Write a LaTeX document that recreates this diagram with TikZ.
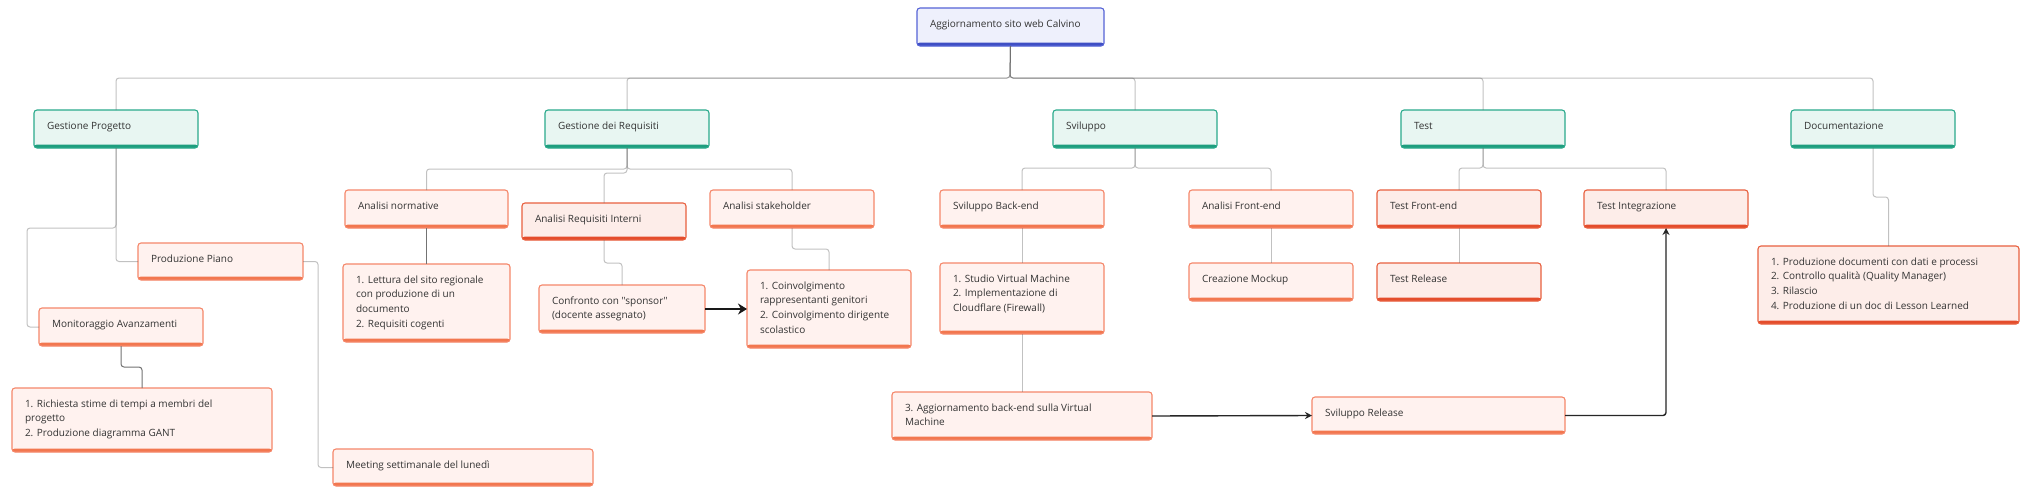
\documentclass[tikz,border=0pt]{standalone}
\usepackage{fontspec}
\setmainfont{Open Sans}[Ligatures=TeXOff]
\usetikzlibrary{arrows.meta}
\definecolor{txtc}{HTML}{333333}
\definecolor{blueb}{HTML}{5563D6}
\definecolor{bluef}{HTML}{EEF0FC}
\definecolor{bluebar}{HTML}{3F4FC4}
\definecolor{tealb}{HTML}{2BAA8C}
\definecolor{tealf}{HTML}{E8F6F2}
\definecolor{tealbar}{HTML}{1E9E7E}
\definecolor{orab}{HTML}{F5876A}
\definecolor{oraf}{HTML}{FFF2EF}
\definecolor{orabar}{HTML}{F2774F}
\definecolor{redb}{HTML}{E8603F}
\definecolor{redf}{HTML}{FDEDE9}
\definecolor{redbar}{HTML}{E44D2C}
\tikzset{
  bx/.style={anchor=north west, rounded corners=3pt, line width=1.1pt,
    inner xsep=13pt, inner ysep=0pt, outer sep=0pt, text=txtc,
    font=\fontsize{10}{14.8}\selectfont},
  bluebox/.style={bx, draw=blueb, fill=bluef, path picture={\fill[bluebar]
    ([yshift=3.5pt]path picture bounding box.south west) rectangle (path picture bounding box.south east);}},
  tealbox/.style={bx, draw=tealb, fill=tealf, path picture={\fill[tealbar]
    ([yshift=3.5pt]path picture bounding box.south west) rectangle (path picture bounding box.south east);}},
  orabox/.style={bx, draw=orab, fill=oraf, path picture={\fill[orabar]
    ([yshift=3.5pt]path picture bounding box.south west) rectangle (path picture bounding box.south east);}},
  redbox/.style={bx, draw=redb, fill=redf, path picture={\fill[redbar]
    ([yshift=3.5pt]path picture bounding box.south west) rectangle (path picture bounding box.south east);}},
  conn/.style={draw=black!60, draw opacity=0.4, line width=1pt, rounded corners=3pt},
  conndark/.style={draw=black!55, line width=1pt, rounded corners=3pt},
  thickarrow/.style={draw=black!90, line width=2.8pt, -{Stealth[length=9pt,width=11pt]}},
  thinarrow/.style={draw=black!85, line width=1.4pt, rounded corners=3pt, -{Stealth[length=7pt,width=7pt]}}
}
\newcommand{\mybox}[7]{\node[#6] (#1) at (#2,#3)
  {\parbox[c][#5pt][t]{\dimexpr #4pt-26pt\relax}{\raggedright\rule{0pt}{19pt}#7}};}
\begin{document}
\begin{tikzpicture}[x=1pt,y=-1pt]
\useasboundingbox[fill=white] (0,0) rectangle (2027,493);
% boxes
\mybox{top}{917}{8}{187}{38}{bluebox}{\mbox{Aggiornamento sito web Calvino}}
\mybox{gp}{34}{110}{164}{38}{tealbox}{Gestione Progetto}
\mybox{gdr}{545}{110}{164}{38}{tealbox}{Gestione dei Requisiti}
\mybox{sv}{1053}{110}{164}{38}{tealbox}{Sviluppo}
\mybox{test}{1401}{110}{164}{38}{tealbox}{Test}
\mybox{doc}{1791}{110}{164}{38}{tealbox}{Documentazione}
\mybox{pp}{138}{243}{165}{37}{orabox}{Produzione Piano}
\mybox{mon}{39}{308}{164}{38}{orabox}{Monitoraggio Avanzamenti}
\mybox{ric}{12}{388}{260}{64}{orabox}{\mbox{1. Richiesta stime di tempi a membri del}\\progetto\\\mbox{2. Produzione diagramma GANT}}
\mybox{meet}{333}{449}{260}{37}{orabox}{Meeting settimanale del lunedì}
\mybox{an}{345}{190}{163}{38}{orabox}{Analisi normative}
\mybox{ari}{522}{203}{164}{37}{redbox}{\mbox{Analisi Requisiti Interni}}
\mybox{as}{710}{190}{164}{38}{orabox}{Analisi stakeholder}
\mybox{let}{343}{264}{167}{78}{orabox}{\mbox{1. Lettura del sito regionale}\\\mbox{con produzione di un}\\documento\\\mbox{2. Requisiti cogenti}}
\mybox{conf}{539}{285}{166}{48}{orabox}{\mbox{Confronto con "sponsor"}\\\mbox{(docente assegnato)}}
\mybox{coin}{747}{270}{164}{78}{orabox}{\mbox{1. Coinvolgimento}\\\mbox{rappresentanti genitori}\\\mbox{2. Coinvolgimento dirigente}\\scolastico}
\mybox{be}{940}{190}{164}{38}{orabox}{Sviluppo Back-end}
\mybox{fe}{1189}{190}{164}{38}{orabox}{Analisi Front-end}
\mybox{studio}{940}{263}{164}{71}{orabox}{\mbox{1. Studio Virtual Machine}\\\mbox{2. Implementazione di}\\\mbox{Cloudflare (Firewall)}}
\mybox{creaz}{1189}{263}{164}{38}{orabox}{Creazione Mockup}
\mybox{agg}{892}{392}{260}{48}{orabox}{\mbox{3. Aggiornamento back-end sulla Virtual}\\Machine}
\mybox{sr}{1312}{397}{253}{37}{orabox}{Sviluppo Release}
\mybox{tfe}{1377}{190}{164}{38}{redbox}{Test Front-end}
\mybox{ti}{1584}{190}{164}{38}{redbox}{Test Integrazione}
\mybox{trel}{1377}{263}{164}{38}{redbox}{Test Release}
\mybox{docit}{1758}{246}{261}{78}{redbox}{\mbox{1. Produzione documenti con dati e processi}\\\mbox{2. Controllo qualità (Quality Manager)}\\3. Rilascio\\\mbox{4. Produzione di un doc di Lesson Learned}}
% tree connectors
\coordinate (hub) at (1010,78);
\foreach \c in {gp,gdr,sv,test,doc}{\draw[conn] (top.south) -- (hub) -| (\c.north);}
\coordinate (ghub) at (627,169);
\draw[conn] (gdr.south) -- (ghub) -| (an.north);
\draw[conn] (gdr.south) -- (ghub) -| (as.north);
\draw[conn] (gdr.south) -- ++(0,25) -| (ari.north);
\draw[conn] (sv.south) -- ++(0,20) -| (be.north);
\draw[conn] (sv.south) -- ++(0,20) -| (fe.north);
\draw[conn] (test.south) -- ++(0,20) -| (tfe.north);
\draw[conn] (test.south) -- ++(0,20) -| (ti.north);
\draw[conn] (doc.south) -- ++(0,49) -| (docit.north);
\draw[conn] (gp.south) |- (pp.west);
\draw[conn] (gp.south) -- ++(0,80) -| ([xshift=-12pt]mon.west) -- (mon.west);
\draw[conn] (pp.east) -- ++(15,0) |- (meet.west);
\draw[conndark] (an.south) -- (let.north);
\draw[conndark] (mon.south) -- ++(0,21) -| (ric.north);
\draw[conn] (ari.south) -- ++(0,23) -| (conf.north);
\draw[conn] (as.south) -- ++(0,21) -| (coin.north);
\draw[conn] (be.south) -- (studio.north);
\draw[conn] (studio.south) -- (agg.north);
\draw[conn] (fe.south) -- (creaz.north);
\draw[conn] (tfe.south) -- (trel.north);
% arrows
\draw[thickarrow] (conf.east) -- (coin.west);
\draw[thinarrow] (agg.east) -- (sr.west);
\draw[thinarrow] (sr.east) -| (ti.south);
\end{tikzpicture}
\end{document}
